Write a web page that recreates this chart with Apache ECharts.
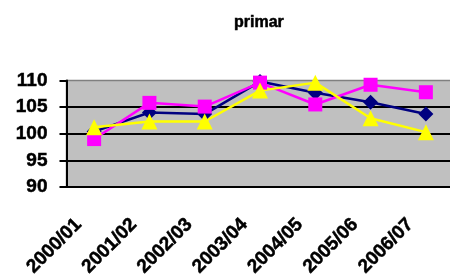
<!DOCTYPE html>
<html>
<head>
<meta charset="utf-8">
<script src="https://cdn.jsdelivr.net/npm/echarts@6/dist/echarts.min.js"></script>
<style>
  html, body { margin: 0; padding: 0; background: #fff; }
  #chart { width: 450px; height: 279px; }
</style>
</head>
<body>
<div id="chart"></div>
<script>
// categories along the x axis
const years = ["2000/01", "2001/02", "2002/03", "2003/04", "2004/05", "2005/06", "2006/07"];
// three index series
const navyValues = [100.4, 104.0, 103.7, 109.8, 107.7, 105.9, 103.7];
const pinkValues = [99.0, 105.8, 105.1, 109.6, 105.5, 109.2, 107.8];
const yellowValues = [101.2, 102.3, 102.3, 108.1, 109.6, 102.9, 100.3];
// y axis range
const yMin = 90;
const yMax = 110;
const yStep = 5;

const font = "Arial, 'Liberation Sans', sans-serif";

// bold text, slightly thickened so it looks like the scaled-down original
function boldText(size) {
  return {
    fontFamily: font,
    fontSize: size,
    fontWeight: "bold",
    color: "#000",
    textBorderColor: "#000",
    textBorderWidth: 0.5,
  };
}

const chartInstance = echarts.init(document.getElementById("chart"));

function lineSeries(name, data, color, symbol, size) {
  return {
    name: name,
    type: "line",
    data: data,
    symbol: symbol,
    symbolSize: size,
    lineStyle: { color: color, width: 2.5 },
    itemStyle: { color: color, borderWidth: 0 },
    animation: false,
  };
}

const option = {
  backgroundColor: "#ffffff",
  title: {
    text: "primar",
    left: 229,
    top: 10,
    textStyle: boldText(16),
  },
  grid: {
    left: 66.5,
    top: 80.5,
    width: 387,
    height: 106.5,
    // keep the plot where it is, labels may run to the edges
    outerBoundsMode: "none",
    containLabel: false,
    show: true,
    backgroundColor: "#c0c0c0",
    borderColor: "#808080",
    borderWidth: 1.5,
  },
  xAxis: {
    type: "category",
    data: years,
    boundaryGap: true,
    axisLine: { lineStyle: { color: "#000", width: 2 } },
    axisTick: { length: 6, lineStyle: { color: "#000", width: 2 } },
    axisLabel: Object.assign(
      {
        rotate: 45,
        interval: 0,
        margin: 19,
        padding: [0, 22, 0, 0],
      },
      boldText(19)
    ),
    splitLine: { show: false },
  },
  yAxis: {
    type: "value",
    min: yMin,
    max: yMax,
    interval: yStep,
    axisLine: { show: true, lineStyle: { color: "#000", width: 2 } },
    axisTick: { show: true, length: 7, lineStyle: { color: "#000", width: 2 } },
    axisLabel: Object.assign({ margin: 19 }, boldText(19)),
    splitLine: {
      show: true,
      showMaxLine: false,
      lineStyle: { color: "#000", width: 2 },
    },
  },
  series: [
    lineSeries("navy", navyValues, "#000080", "diamond", 15),
    lineSeries("pink", pinkValues, "#ff00ff", "rect", 14),
    lineSeries("yellow", yellowValues, "#ffff00", "triangle", 16),
  ],
};

chartInstance.setOption(option);
</script>
</body>
</html>
